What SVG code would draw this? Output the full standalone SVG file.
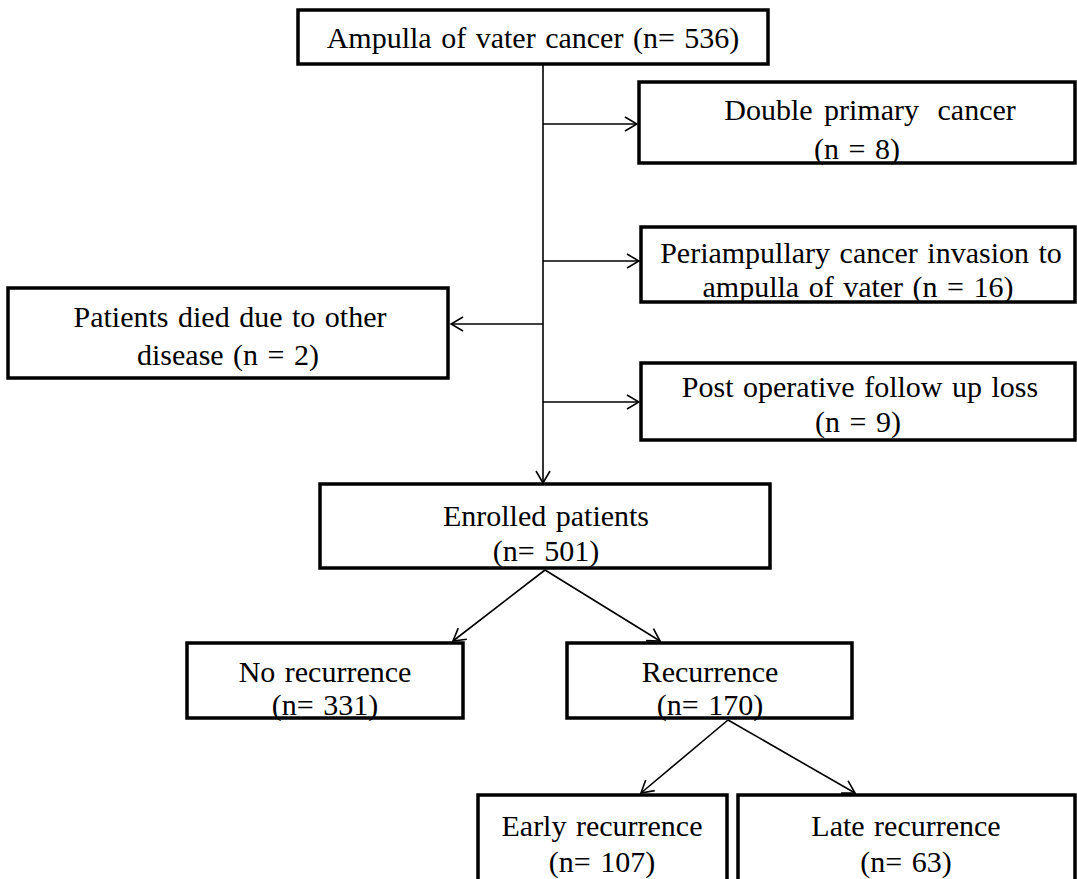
<svg xmlns="http://www.w3.org/2000/svg" width="1077" height="879" viewBox="0 0 1077 879">
<defs>
<style>
.box{fill:#fff;stroke:#000;stroke-width:3.5}
.t{font-family:"Liberation Serif","Times New Roman",serif;font-size:30px;fill:#000;text-anchor:middle;word-spacing:2px}
.c{fill:none;stroke:#000;stroke-width:1.6}
</style>
<marker id="ah" viewBox="0 0 14 16" refX="13" refY="8" markerWidth="14" markerHeight="16" markerUnits="userSpaceOnUse" orient="auto">
<path d="M1,1 L13,8 L1,15" fill="none" stroke="#000" stroke-width="1.6"/>
</marker>
</defs>
<rect width="1077" height="879" fill="#fff"/>
<g id="connectors">
<line class="c" x1="543" y1="64" x2="543" y2="483" marker-end="url(#ah)"/>
<line class="c" x1="543" y1="124" x2="637" y2="124" marker-end="url(#ah)"/>
<line class="c" x1="543" y1="261" x2="639" y2="261" marker-end="url(#ah)"/>
<line class="c" x1="543" y1="324" x2="451" y2="324" marker-end="url(#ah)"/>
<line class="c" x1="543" y1="402" x2="639" y2="402" marker-end="url(#ah)"/>
<line class="c" x1="545" y1="570" x2="453" y2="641" marker-end="url(#ah)"/>
<line class="c" x1="545" y1="570" x2="660" y2="641" marker-end="url(#ah)"/>
<line class="c" x1="728" y1="720" x2="641" y2="793" marker-end="url(#ah)"/>
<line class="c" x1="728" y1="720" x2="855" y2="793" marker-end="url(#ah)"/>
</g>
<g id="n-top">
<rect class="box" x="298" y="10" width="470" height="54"/>
<text class="t" x="533" y="48">Ampulla of vater cancer (n= 536)</text>
</g>
<g id="n-double">
<rect class="box" x="639" y="82" width="436" height="81"/>
<text class="t" x="870" y="120" style="word-spacing:4px">Double primary<tspan dx="7"> cancer</tspan></text>
<text class="t" x="857" y="159">(n = 8)</text>
</g>
<g id="n-peri">
<rect class="box" x="641" y="227" width="434" height="75"/>
<text class="t" x="861" y="263">Periampullary cancer invasion to</text>
<text class="t" x="858" y="297">ampulla of vater (n = 16)</text>
</g>
<g id="n-died">
<rect class="box" x="8" y="288" width="440" height="90"/>
<text class="t" x="230" y="327">Patients died due to other</text>
<text class="t" x="228" y="365">disease (n = 2)</text>
</g>
<g id="n-post">
<rect class="box" x="641" y="363" width="434" height="77"/>
<text class="t" x="860" y="397">Post operative follow up loss</text>
<text class="t" x="858" y="432">(n = 9)</text>
</g>
<g id="n-enrolled">
<rect class="box" x="320" y="484" width="450" height="84"/>
<text class="t" x="546" y="526">Enrolled patients</text>
<text class="t" x="546" y="561">(n= 501)</text>
</g>
<g id="n-norec">
<rect class="box" x="187" y="643" width="276" height="75"/>
<text class="t" x="325" y="682">No recurrence</text>
<text class="t" x="325" y="715">(n= 331)</text>
</g>
<g id="n-rec">
<rect class="box" x="567" y="643" width="285" height="75"/>
<text class="t" x="710" y="682">Recurrence</text>
<text class="t" x="710" y="715">(n= 170)</text>
</g>
<g id="n-early">
<rect class="box" x="478" y="795" width="249" height="90"/>
<text class="t" x="602" y="836">Early recurrence</text>
<text class="t" x="602" y="872">(n= 107)</text>
</g>
<g id="n-late">
<rect class="box" x="738" y="795" width="337" height="90"/>
<text class="t" x="906" y="836">Late recurrence</text>
<text class="t" x="906" y="872">(n= 63)</text>
</g>
</svg>
